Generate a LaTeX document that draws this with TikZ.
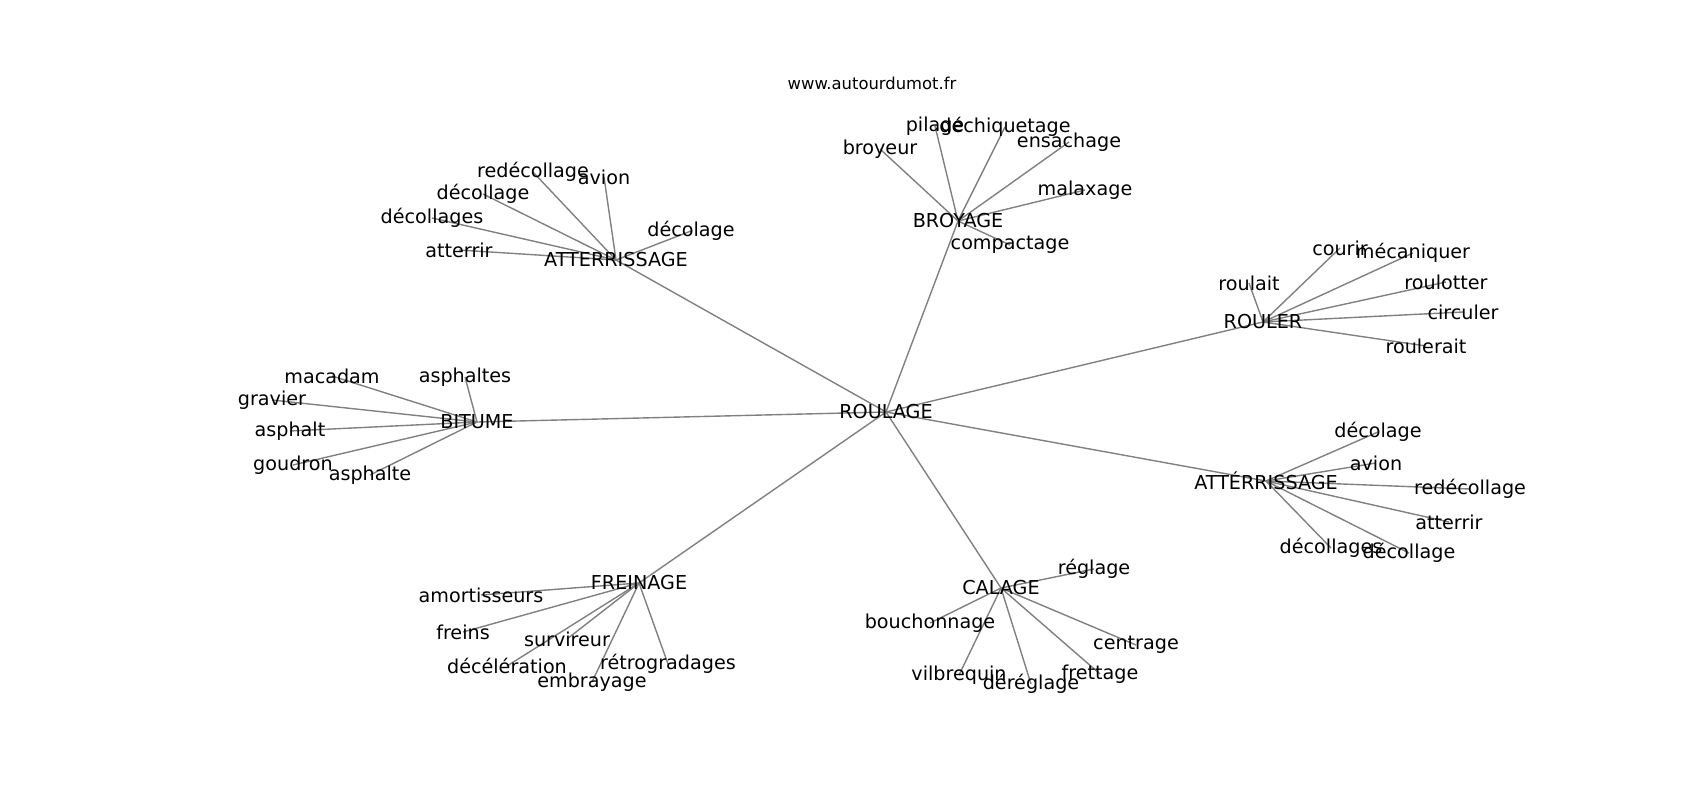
\documentclass[tikz,border=0pt]{standalone}
\usepackage{fontspec}
\setmainfont{DejaVu Sans}
\pgfdeclarelayer{bg}
\pgfsetlayers{bg,main}
\tikzset{
  lbl/.style={inner sep=0pt, outer sep=0pt, anchor=center, font=\fontsize{13.8}{16}\selectfont, text=black},
  urlstyle/.style={inner sep=0pt, anchor=center, font=\fontsize{11.8}{14}\selectfont, text=black},
  edge/.style={draw=gray, line width=1pt}
}
\begin{document}
\begin{tikzpicture}[x=0.72pt, y=-0.72pt]
\useasboundingbox (0,0) rectangle (1700,800);
\node[urlstyle] (url) at (872,83) {www.autourdumot.fr};
% centre
\node[lbl] (R) at (886,412) {ROULAGE};
% ATTERRISSAGE
\node[lbl] (A1) at (616,260) {ATTERRISSAGE};
\node[lbl] (a1r) at (533,172) {redécollage};
\node[lbl] (a1a) at (604,177) {avion};
\node[lbl] (a1d) at (483,194) {décollage};
\node[lbl] (a1ds) at (432,218) {décollages};
\node[lbl] (a1t) at (459,250) {atterrir};
\node[lbl] (a1dc) at (691,231) {décolage};
% BROYAGE
\node[lbl] (B) at (958,221) {BROYAGE};
\node[lbl] (b1) at (935,126) {pilage};
\node[lbl] (b2) at (1005,127) {déchiquetage};
\node[lbl] (b3) at (880,149) {broyeur};
\node[lbl] (b4) at (1069,142) {ensachage};
\node[lbl] (b5) at (1085,190) {malaxage};
\node[lbl] (b6) at (1010,245) {compactage};
% ROULER
\node[lbl] (RL) at (1263,322) {ROULER};
\node[lbl] (r1) at (1340,248) {courir};
\node[lbl] (r2) at (1413,253) {mécaniquer};
\node[lbl] (r3) at (1249,283) {roulait};
\node[lbl] (r4) at (1446,282) {roulotter};
\node[lbl] (r5) at (1463,312) {circuler};
\node[lbl] (r6) at (1426,346) {roulerait};
% BITUME
\node[lbl] (BI) at (477,422) {BITUME};
\node[lbl] (t1) at (332,376) {macadam};
\node[lbl] (t2) at (465,377) {asphaltes};
\node[lbl] (t3) at (272,400) {gravier};
\node[lbl] (t4) at (290,431) {asphalt};
\node[lbl] (t5) at (293,465) {goudron};
\node[lbl] (t6) at (370,475) {asphalte};
% ATTERRISSAGE 2
\node[lbl] (A2) at (1266,481) {ATTÉRRISSAGE};
\node[lbl] (c1) at (1378,432) {décolage};
\node[lbl] (c2) at (1376,463) {avion};
\node[lbl] (c3) at (1470,489) {redécollage};
\node[lbl] (c4) at (1449,522) {atterrir};
\node[lbl] (c5) at (1331,548) {décollages};
\node[lbl] (c6) at (1409,553) {décollage};
% FREINAGE
\node[lbl] (F) at (639,583) {FREINAGE};
\node[lbl] (f1) at (481,595) {amortisseurs};
\node[lbl] (f2) at (463,632) {freins};
\node[lbl] (f3) at (567,639) {survireur};
\node[lbl] (f4) at (507,666) {décélération};
\node[lbl] (f5) at (668,664) {rétrogradages};
\node[lbl] (f6) at (592,682) {embrayage};
% CALAGE
\node[lbl] (C) at (1001,588) {CALAGE};
\node[lbl] (k1) at (1094,569) {réglage};
\node[lbl] (k2) at (930,623) {bouchonnage};
\node[lbl] (k3) at (1136,645) {centrage};
\node[lbl] (k4) at (959,675) {vilbrequin};
\node[lbl] (k5) at (1031,684) {déréglage};
\node[lbl] (k6) at (1100,674) {frettage};
\begin{pgfonlayer}{bg}
\fill[white] (0,0) rectangle (1700,800);
\foreach \h in {A1,B,RL,BI,A2,F,C} \draw[edge] (R.center) -- (\h.center);
\foreach \c in {a1r,a1a,a1d,a1ds,a1t,a1dc} \draw[edge] (A1.center) -- (\c.center);
\foreach \c in {b1,b2,b3,b4,b5,b6} \draw[edge] (B.center) -- (\c.center);
\foreach \c in {r1,r2,r3,r4,r5,r6} \draw[edge] (RL.center) -- (\c.center);
\foreach \c in {t1,t2,t3,t4,t5,t6} \draw[edge] (BI.center) -- (\c.center);
\foreach \c in {c1,c2,c3,c4,c5,c6} \draw[edge] (A2.center) -- (\c.center);
\foreach \c in {f1,f2,f3,f4,f5,f6} \draw[edge] (F.center) -- (\c.center);
\foreach \c in {k1,k2,k3,k4,k5,k6} \draw[edge] (C.center) -- (\c.center);
\end{pgfonlayer}
\end{tikzpicture}
\end{document}
